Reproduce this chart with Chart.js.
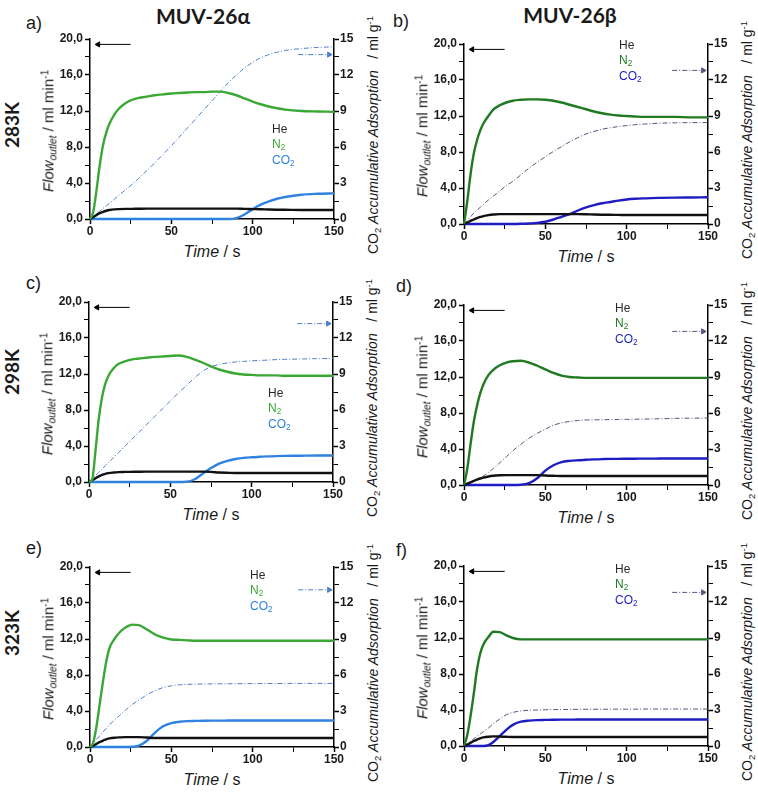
<!doctype html>
<html lang="en">
<head>
<meta charset="utf-8">
<style>
  * { margin: 0; padding: 0; }
  body { width: 758px; height: 792px; background: #fff; position: relative; overflow: hidden;
         font-family: "Liberation Sans", Arial, sans-serif; color: #1a1a1a; }
  .box { position: absolute; width: 314px; height: 212px; }
  .t { position: absolute; white-space: nowrap; line-height: 1; }
  .rot { transform: translate(-50%, -50%) rotate(-90deg); }
  .ctr { transform: translate(-50%, -50%); }
  .sub { font-size: 0.68em; position: relative; top: 0.3em; }
  .sup { font-size: 0.68em; position: relative; top: -0.5em; }
  .head { font-family: Lato, "Open Sans", sans-serif; font-weight: bold; font-size: 21px; }
  .row { font-family: Lato, "Open Sans", sans-serif; font-weight: bold; font-size: 19px; }
  .letter { font-size: 18px; }
  .ytitle { font-size: 15px; }
  .y2title { font-size: 14px; }
  .xtitle { font-size: 16px; }
  .leg { position: absolute; font-size: 12px; line-height: 15px; }
</style>
</head>
<body>
<div class="t head ctr" style="left:203px;top:15px">MUV-26α</div>
<div class="t head ctr" style="left:570px;top:14px">MUV-26β</div>
<div class="t row rot" style="left:11px;top:125px">283K</div>
<div class="t row rot" style="left:11px;top:372px">298K</div>
<div class="t row rot" style="left:11px;top:633px">323K</div>
<div class="t letter" style="left:26px;top:14px">a)</div>
<div class="t letter" style="left:393px;top:12px">b)</div>
<div class="t letter" style="left:26px;top:274px">c)</div>
<div class="t letter" style="left:396px;top:277px">d)</div>
<div class="t letter" style="left:26px;top:539px">e)</div>
<div class="t letter" style="left:396px;top:541px">f)</div>

<script src="https://cdn.jsdelivr.net/npm/chart.js"></script>
<script>
  // time axis shared by every trace (s)
  const T = [0,2,4,6,8,10,12,15,18,22,26,30,35,40,45,50,55,60,65,70,75,80,85,90,95,100,105,110,115,120,130,140,150]

  // a) MUV-26a 283K
  const n2A  = [0,0.8,3.2,6.0,8.2,9.6,10.6,11.6,12.3,12.9,13.25,13.45,13.6,13.75,13.85,13.95,14.0,14.05,14.1,14.1,14.15,14.15,14.0,13.75,13.4,13.05,12.75,12.5,12.3,12.15,12.0,11.95,11.9]
  const heA  = [0,0.2,0.45,0.65,0.8,0.92,1.0,1.07,1.1,1.12,1.13,1.14,1.15,1.15,1.15,1.15,1.15,1.15,1.15,1.15,1.15,1.15,1.15,1.15,1.12,1.1,1.08,1.05,1.03,1.02,1.0,1.0,1.0]
  const co2A = [0,0,0,0,0,0,0,0,0,0,0,0,0,0,0,0,0,0,0,0,0,0,0,0.1,0.5,1.1,1.6,1.95,2.25,2.45,2.7,2.8,2.85]
  const accA = [0,0.22,0.44,0.66,0.88,1.1,1.32,1.65,2.0,2.45,2.9,3.4,4.05,4.7,5.4,6.1,6.85,7.6,8.35,9.1,9.85,10.6,11.35,12.0,12.6,13.05,13.45,13.7,13.9,14.05,14.2,14.3,14.35]

  // b) MUV-26b 283K
  const n2B  = [0,2.5,5.5,7.8,9.3,10.4,11.2,12.0,12.7,13.2,13.5,13.7,13.8,13.85,13.85,13.8,13.7,13.5,13.25,13.0,12.75,12.5,12.3,12.15,12.05,12.0,11.95,11.9,11.9,11.9,11.9,11.85,11.85]
  const heB  = [0,0.15,0.35,0.5,0.65,0.78,0.88,0.98,1.05,1.1,1.1,1.1,1.1,1.1,1.1,1.1,1.1,1.1,1.1,1.1,1.08,1.05,1.03,1.02,1.01,1.0,1.0,1.0,1.0,1.0,1.0,1.0,1.0]
  const co2B = [0,0,0,0,0,0,0,0,0,0,0,0,0.02,0.06,0.12,0.25,0.5,0.8,1.1,1.5,1.85,2.1,2.3,2.45,2.6,2.72,2.8,2.85,2.88,2.9,2.93,2.95,2.97]
  const accB = [0,0.3,0.6,0.9,1.15,1.4,1.65,2.0,2.32,2.75,3.2,3.55,4.1,4.65,5.15,5.6,6.05,6.45,6.85,7.2,7.5,7.72,7.9,8.02,8.12,8.2,8.27,8.32,8.36,8.4,8.43,8.45,8.45]

  // c) MUV-26a 298K
  const n2C  = [0,0.3,3.5,7.0,9.4,10.9,11.8,12.6,13.1,13.4,13.6,13.7,13.8,13.9,13.95,14.0,14.05,13.9,13.6,13.25,12.85,12.5,12.25,12.05,11.95,11.9,11.85,11.85,11.85,11.8,11.8,11.8,11.8]
  const heC  = [0,0.2,0.42,0.62,0.78,0.9,0.98,1.05,1.1,1.12,1.13,1.14,1.15,1.15,1.15,1.15,1.15,1.15,1.15,1.15,1.12,1.05,1.02,1.0,1.0,1.0,1.0,1.0,1.0,1.0,1.0,1.0,1.0]
  const co2C = [0,0,0,0,0,0,0,0,0,0,0,0,0,0,0,0,0,0.02,0.3,0.95,1.55,2.05,2.35,2.55,2.68,2.75,2.8,2.85,2.88,2.9,2.92,2.95,2.95]
  const accC = [0,0.27,0.54,0.81,1.08,1.35,1.62,2.03,2.43,2.97,3.51,4.05,4.73,5.4,6.08,6.75,7.43,8.05,8.7,9.25,9.6,9.8,9.92,10.0,10.05,10.1,10.13,10.16,10.2,10.22,10.25,10.28,10.3]

  // d) MUV-26b 298K
  const n2D  = [0,1.8,4.5,7.0,8.8,10.2,11.2,12.2,12.8,13.3,13.6,13.75,13.8,13.6,13.25,12.85,12.45,12.15,12.0,11.95,11.9,11.9,11.9,11.9,11.9,11.9,11.9,11.9,11.9,11.9,11.9,11.9,11.9]
  const heD  = [0,0.15,0.3,0.45,0.6,0.72,0.82,0.95,1.03,1.08,1.1,1.1,1.1,1.1,1.1,1.05,1.02,1.0,1.0,1.0,1.0,1.0,1.0,1.0,1.0,1.0,1.0,1.0,1.0,1.0,1.0,1.0,1.0]
  const co2D = [0,0,0,0,0,0,0,0,0,0,0,0,0.02,0.2,0.75,1.6,2.2,2.55,2.68,2.75,2.8,2.85,2.88,2.9,2.9,2.92,2.92,2.93,2.93,2.94,2.95,2.95,2.95]
  const accD = [0,0.1,0.2,0.32,0.45,0.6,0.75,1.05,1.38,1.85,2.35,2.85,3.4,3.9,4.3,4.65,4.98,5.18,5.3,5.37,5.42,5.43,5.44,5.45,5.46,5.47,5.48,5.49,5.5,5.52,5.55,5.57,5.58]

  // e) MUV-26a 323K
  const n2E  = [0,0.5,2.3,4.8,7.3,9.5,11.0,12.0,12.7,13.3,13.6,13.55,13.05,12.5,12.15,11.95,11.9,11.85,11.8,11.8,11.8,11.8,11.8,11.8,11.8,11.8,11.8,11.8,11.8,11.8,11.8,11.8,11.8]
  const heE  = [0,0.15,0.35,0.55,0.72,0.85,0.95,1.03,1.07,1.1,1.1,1.1,1.05,1.0,1.0,1.0,1.0,1.0,1.0,1.0,1.0,1.0,1.0,1.0,1.0,1.0,1.0,1.0,1.0,1.0,1.0,1.0,1.0]
  const co2E = [0,0,0,0,0,0,0,0,0,0,0.02,0.15,0.7,1.6,2.3,2.65,2.8,2.88,2.9,2.92,2.93,2.93,2.94,2.94,2.95,2.95,2.95,2.95,2.95,2.95,2.95,2.95,2.95]
  const accE = [0,0.3,0.62,0.95,1.25,1.55,1.85,2.25,2.6,3.1,3.55,3.9,4.35,4.7,4.95,5.1,5.18,5.22,5.24,5.25,5.26,5.27,5.27,5.28,5.28,5.28,5.29,5.29,5.29,5.3,5.3,5.3,5.3]

  // f) MUV-26b 323K
  const n2F  = [0,1.2,3.3,5.8,8.5,10.3,11.3,12.1,12.7,12.65,12.3,12.0,11.85,11.85,11.85,11.85,11.85,11.85,11.85,11.85,11.85,11.85,11.85,11.85,11.85,11.85,11.85,11.85,11.85,11.85,11.85,11.85,11.85]
  const heF  = [0,0.15,0.35,0.55,0.72,0.85,0.95,1.03,1.07,1.05,1.02,1.0,1.0,1.0,1.0,1.0,1.0,1.0,1.0,1.0,1.0,1.0,1.0,1.0,1.0,1.0,1.0,1.0,1.0,1.0,1.0,1.0,1.0]
  const co2F = [0,0,0,0,0,0,0,0.1,0.45,1.1,1.8,2.35,2.7,2.82,2.88,2.9,2.92,2.93,2.93,2.94,2.94,2.95,2.95,2.95,2.95,2.95,2.95,2.95,2.95,2.95,2.95,2.95,2.95]
  const accF = [0,0.2,0.4,0.6,0.8,1.0,1.2,1.5,1.85,2.25,2.6,2.8,2.92,2.98,3.0,3.02,3.03,3.04,3.05,3.05,3.06,3.06,3.06,3.07,3.07,3.07,3.07,3.08,3.08,3.08,3.08,3.08,3.08]

  // the two axis marker arrows
  const arrowLeftT = [5, 25]
  const arrowLeftY = 19.4
  const arrowRightT = [128, 147]
  const arrowRightY = [13.7, 12.8, 13.2, 12.8, 13.1, 12.8]

  const legendNames = ['He', 'N<span class="sub">2</span>', 'CO<span class="sub">2</span>']

  // colours per column (alpha / beta)
  const colours = [
    { n2: '#3aa834', co2: '#2f82e0', acc: '#4d80c6' },
    { n2: '#1f7a22', co2: '#1d1dc2', acc: '#56567e' }
  ]

  // plot-area placement on the page
  const panels = [
    { L: 90,  T: 39,  col: 0, n2: n2A, he: heA, co2: co2A, acc: accA, leg: [272, 129] },
    { L: 464, T: 44,  col: 1, n2: n2B, he: heB, co2: co2B, acc: accB, leg: [619, 45] },
    { L: 89,  T: 302, col: 0, n2: n2C, he: heC, co2: co2C, acc: accC, leg: [268, 393] },
    { L: 464, T: 305, col: 1, n2: n2D, he: heD, co2: co2D, acc: accD, leg: [615, 308] },
    { L: 90,  T: 567, col: 0, n2: n2E, he: heE, co2: co2E, acc: accE, leg: [250, 575] },
    { L: 464, T: 566, col: 1, n2: n2F, he: heF, co2: co2F, acc: accF, leg: [615, 569] }
  ]
  const W = 244, H = 180

  Chart.defaults.font.family = '"Liberation Sans", Arial, sans-serif'
  Chart.defaults.animation = false

  function pts(arr) {
    return T.map((t, i) => ({ x: t, y: arr[i] }))
  }

  function addText(cls, x, y, html) {
    const d = document.createElement('div')
    d.className = 't ' + cls
    d.style.left = x + 'px'
    d.style.top = y + 'px'
    d.innerHTML = html
    document.body.appendChild(d)
  }

  panels.forEach((p, k) => {
    const c = colours[p.col]
    const box = document.createElement('div')
    box.className = 'box'
    box.style.left = (p.L - 40) + 'px'
    box.style.top = (p.T - 10) + 'px'
    const cv = document.createElement('canvas')
    cv.width = 314
    cv.height = 212
    box.appendChild(cv)
    document.body.appendChild(box)

    addText('ytitle rot', p.L - 42, p.T + 92,
      '<i>Flow</i><span class="sub"><i>outlet</i></span> / ml min<span class="sup">-1</span>')
    addText('y2title rot', p.L + W + 39, p.T + 96,
      'CO<span class="sub">2</span> <i>Accumulative Adsorption</i>&nbsp;&nbsp; / ml g<span class="sup">-1</span>')
    addText('xtitle ctr', p.L + W / 2, p.T + H + 33, '<i>Time</i> / s')

    const leg = document.createElement('div')
    leg.className = 'leg'
    leg.style.left = p.leg[0] + 'px'
    leg.style.top = (p.leg[1] - 7.5) + 'px'
    const legCols = ['#2a2a2a', c.n2, c.co2]
    leg.innerHTML = legendNames.map((n, i) => '<div style="color:' + legCols[i] + '">' + n + '</div>').join('')
    document.body.appendChild(leg)

    const line = (data, col, w, axis) => ({
      data: pts(data), borderColor: col, borderWidth: w, pointRadius: 0,
      cubicInterpolationMode: 'monotone', yAxisID: axis, clip: 4
    })

    new Chart(cv, {
      type: 'line',
      data: {
        datasets: [
          line(p.n2, c.n2, 2.4, 'y'),
          line(p.he, '#111', 2.4, 'y'),
          line(p.co2, c.co2, 2.4, 'y'),
          Object.assign(line(p.acc, c.acc, 1, 'y2'), { borderDash: [5, 2, 1, 2] }),
          {
            data: arrowLeftT.map(t => ({ x: t, y: arrowLeftY })), borderColor: '#000', backgroundColor: '#000',
            borderWidth: 1, pointStyle: 'triangle', pointRadius: [3, 0], pointRotation: [-90, 0], yAxisID: 'y'
          },
          {
            data: arrowRightT.map(t => ({ x: t, y: arrowRightY[k] })), borderColor: c.acc, backgroundColor: c.acc,
            borderWidth: 1, borderDash: [5, 2, 1, 2], pointStyle: 'triangle', pointRadius: [0, 3], pointRotation: [0, 90], yAxisID: 'y2'
          }
        ]
      },
      options: {
        responsive: false,
        maintainAspectRatio: false,
        layout: { padding: { top: 10, left: 0, right: 0, bottom: 0 } },
        plugins: { legend: { display: false }, tooltip: { enabled: false } },
        events: [],
        scales: {
          x: {
            type: 'linear', min: 0, max: 150,
            afterFit: s => { s.height = 22 },
            ticks: {
              stepSize: 25, autoSkip: false, maxRotation: 0, padding: 0, color: '#1a1a1a',
              font: { size: 12, weight: 'bold' },
              callback: v => (v % 50 === 0 ? v : '')
            },
            grid: { drawOnChartArea: false, tickLength: 5, tickColor: '#000',
                    tickWidth: ctx => (ctx.tick && ctx.tick.value % 50 === 0 ? 1.5 : 1) },
            border: { color: '#000', width: 1.5 }
          },
          y: {
            position: 'left', min: 0, max: 20,
            afterFit: s => { s.width = 40 },
            ticks: {
              stepSize: 2, autoSkip: false, padding: 2, color: '#1a1a1a',
              font: { size: 12, weight: 'bold' },
              callback: v => (v % 4 === 0 ? v.toFixed(1).replace('.', ',') : '')
            },
            grid: { drawOnChartArea: false, tickLength: 5, tickColor: '#000',
                    tickWidth: ctx => (ctx.tick && ctx.tick.value % 4 === 0 ? 1.5 : 1) },
            border: { color: '#000', width: 1.5 }
          },
          y2: {
            position: 'right', min: 0, max: 15,
            afterFit: s => { s.width = 30 },
            ticks: {
              stepSize: 1.5, autoSkip: false, padding: 1, color: '#1a1a1a',
              font: { size: 12, weight: 'bold' },
              callback: v => (Math.abs(v / 3 - Math.round(v / 3)) < 1e-6 ? Math.round(v) : '')
            },
            grid: { drawOnChartArea: false, tickLength: 5, tickColor: '#000',
                    tickWidth: ctx => (ctx.tick && Math.abs(ctx.tick.value / 3 - Math.round(ctx.tick.value / 3)) < 1e-6 ? 1.5 : 1) },
            border: { color: '#000', width: 1.5 }
          }
        }
      }
    })
  })
</script>
</body>
</html>
